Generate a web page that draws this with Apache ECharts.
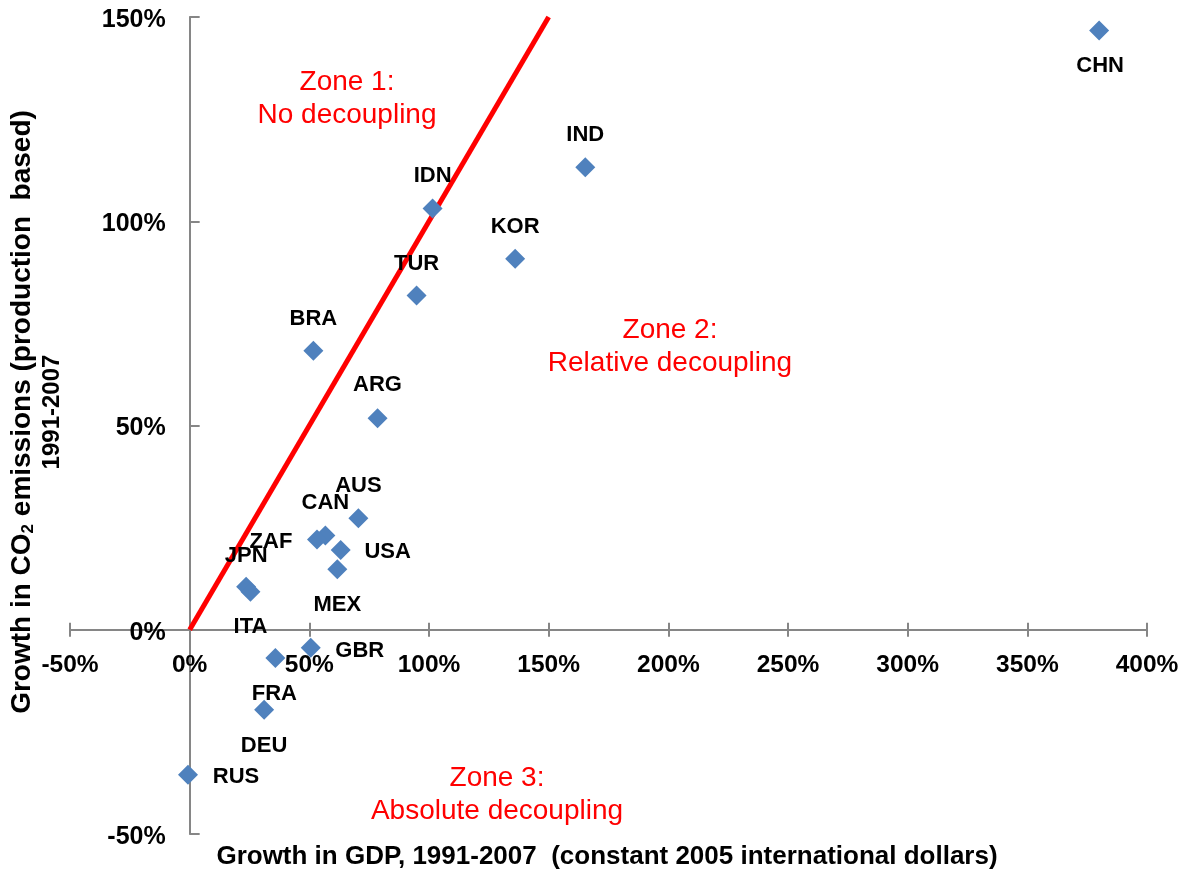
<!DOCTYPE html>
<html>
<head>
<meta charset="utf-8">
<script src="https://cdn.jsdelivr.net/npm/echarts@6/dist/echarts.min.js"></script>
<style>
html,body{margin:0;padding:0;background:#fff;}
#chart{width:1199px;height:872px;}
</style>
</head>
<body>
<div id="chart"></div>
<script>
// ---- data ----
const countries = ['CHN','IND','IDN','KOR','TUR','BRA','ARG','AUS','CAN','ZAF','USA','MEX','JPN','ITA','GBR','FRA','DEU','RUS'];
const gdpGrowth = [380.0,165.3,101.5,136.0,94.8,51.7,78.5,70.5,56.7,53.2,63.1,61.7,23.6,25.4,50.6,35.8,31.1,-0.7];
const co2Growth = [146.7,113.2,103.1,90.8,81.8,68.3,51.8,27.3,23.1,22.1,19.5,14.8,10.5,9.3,-4.4,-6.9,-19.6,-35.5];
const noDecouplingLine = [[0,0],[150,150]];
const xAxisRange = {min:-50, max:400, step:50};
const yAxisRange = {min:-50, max:150, step:50};
const zoneTexts = ['Zone 1:\nNo decoupling','Zone 2:\nRelative decoupling','Zone 3:\nAbsolute decoupling'];
const xTitle = 'Growth in GDP, 1991-2007  (constant 2005 international dollars)';

// ---- styles (label offsets in px, zone text centers in px) ----
const labelOffsets = {
  CHN:[1,35], IND:[0,-32], IDN:[0,-33], KOR:[0,-32], TUR:[0,-32], BRA:[0,-32],
  ARG:[0,-33], AUS:[0,-32], CAN:[0,-32], ZAF:[-46,2], USA:[47,2], MEX:[0,36],
  JPN:[0,-31], ITA:[0,35], GBR:[49,3], FRA:[-1,36], DEU:[0,36], RUS:[48,2]
};
const zonePos = [[347,99],[670,347],[497,795]];

const FONT = '"Liberation Sans", Arial, sans-serif';
const AXIS_GRAY = '#868686';

const GRID = {left:70, right:52, top:17, bottom:38};
const W = 1199, H = 872;
const gridW = W - GRID.left - GRID.right;
const gridH = H - GRID.top - GRID.bottom;
// distance of the zero lines from the grid edges (so axes sit on zero)
const xZeroFromLeft = gridW * (0 - xAxisRange.min) / (xAxisRange.max - xAxisRange.min);
const yZeroFromBottom = gridH * (0 - yAxisRange.min) / (yAxisRange.max - yAxisRange.min);

const chart = echarts.init(document.getElementById('chart'));

const scatterData = countries.map((c,i)=>({
  name:c,
  value:[gdpGrowth[i], co2Growth[i]],
  label:{offset: labelOffsets[c] || [0,-32]}
}));

const pctFmt = v => v + '%';

const option = {
  backgroundColor:'#fff',
  animation:false,
  grid:Object.assign({containLabel:false, outerBoundsMode:'none'}, GRID),
  xAxis:[{
    type:'value', min:xAxisRange.min, max:xAxisRange.max, interval:xAxisRange.step,
    position:'bottom', offset:-yZeroFromBottom,
    axisLine:{show:true, onZero:false, lineStyle:{color:AXIS_GRAY, width:2}},
    axisTick:{show:true, inside:false, length:7, lineStyle:{color:AXIS_GRAY, width:2}},
    axisLabel:{show:true, formatter:pctFmt, margin:23, color:'#000', fontSize:24.5, fontWeight:'bold', fontFamily:FONT},
    splitLine:{show:false}
  },{
    type:'value', min:xAxisRange.min, max:xAxisRange.max, interval:xAxisRange.step,
    position:'top', offset:-(gridH - yZeroFromBottom),
    axisLine:{show:false, onZero:false},
    axisTick:{show:true, inside:false, length:7, lineStyle:{color:AXIS_GRAY, width:2}},
    axisLabel:{show:false},
    splitLine:{show:false}
  }],
  yAxis:{
    type:'value', min:yAxisRange.min, max:yAxisRange.max, interval:yAxisRange.step,
    position:'left', offset:-xZeroFromLeft,
    axisLine:{show:true, onZero:false, lineStyle:{color:AXIS_GRAY, width:2}},
    axisTick:{show:true, inside:true, length:10, lineStyle:{color:AXIS_GRAY, width:2}},
    axisLabel:{
      formatter:v => '{t|' + v + '%}', margin:24,
      rich:{t:{color:'#000', fontSize:25, fontWeight:'bold', fontFamily:FONT, padding:[6,0,0,0]}}
    },
    splitLine:{show:false}
  },
  series:[{
    type:'line',
    data:noDecouplingLine,
    symbol:'none',
    lineStyle:{color:'#FF0000', width:5},
    silent:true,
    z:2
  },{
    type:'scatter',
    data:scatterData,
    symbol:'diamond',
    symbolSize:20,
    itemStyle:{color:'#4F81BD', opacity:1},
    label:{
      show:true, position:'inside', formatter:'{b}',
      color:'#000', fontSize:22, fontWeight:'bold', fontFamily:FONT
    },
    z:3
  }],
  graphic:[
    ...zoneTexts.map((t,i)=>({
      type:'text', x:zonePos[i][0], y:zonePos[i][1], z:10,
      style:{text:t, fill:'#FF0000', font:'28px ' + FONT, align:'center', verticalAlign:'middle', lineHeight:33}
    })),
    {
      type:'text', x:607, y:857, z:10,
      style:{text:xTitle, fill:'#000', font:'bold 26px ' + FONT, align:'center', verticalAlign:'middle'}
    },
    {
      type:'text', x:37, y:412, rotation:Math.PI/2, z:10,
      style:{
        text:'{b|Growth in CO}{s|2}{b| emissions (production  based)}\n{c|1991-2007}',
        align:'center', verticalAlign:'middle',
        rich:{
          b:{fill:'#000', fontSize:28, fontWeight:'bold', fontFamily:FONT, lineHeight:31},
          s:{fill:'#000', fontSize:17, fontWeight:'bold', fontFamily:FONT, lineHeight:31, padding:[11,0,0,0]},
          c:{fill:'#000', fontSize:24, fontWeight:'bold', fontFamily:FONT, lineHeight:29}
        }
      }
    }
  ]
};
chart.setOption(option);
</script>
</body>
</html>
